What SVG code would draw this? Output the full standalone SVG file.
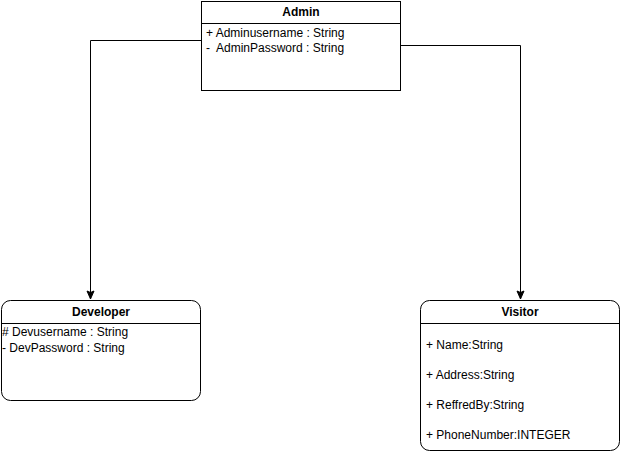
<svg xmlns="http://www.w3.org/2000/svg" width="621" height="451" viewBox="0 0 621 451">
<style>
.box{fill:#fff;stroke:#000;stroke-width:1}
.t{font-family:"Liberation Sans",Arial,sans-serif;font-size:12px;fill:#000;white-space:pre}
.h{font-weight:bold;text-anchor:middle}
.c{fill:none;stroke:#000;stroke-width:1}
</style>
<defs>
<marker id="a2" markerWidth="10" markerHeight="10" refX="9" refY="5" orient="auto" markerUnits="userSpaceOnUse" viewBox="0 0 10 10">
<path d="M1,1.5 L9,5 L1,8.5 L2.5,5 Z" fill="#000" stroke="#000" stroke-width="1"/>
</marker>
</defs>
<g id="connectors">
<path class="c" d="M201.5,40.5 H90.5 V299" marker-end="url(#a2)"/>
<path class="c" d="M400.5,45.5 H520.5 V299" marker-end="url(#a2)"/>
</g>
<g id="admin">
<rect class="box" x="201.5" y="1.5" width="199" height="89"/>
<line class="c" x1="201.5" y1="23.5" x2="400.5" y2="23.5"/>
<text class="t h" x="301" y="16">Admin</text>
<text class="t" x="206" y="37" xml:space="preserve">+ Adminusername : String</text>
<text class="t" x="206" y="52" xml:space="preserve">-  AdminPassword : String</text>
</g>
<g id="developer">
<rect class="box" x="1.5" y="300.5" width="199" height="100" rx="9"/>
<line class="c" x1="1.5" y1="323.5" x2="200.5" y2="323.5"/>
<text class="t h" x="101" y="316">Developer</text>
<text class="t" x="2" y="336"># Devusername : String</text>
<text class="t" x="2" y="352">- DevPassword : String</text>
</g>
<g id="visitor">
<rect class="box" x="420.5" y="300.5" width="199" height="150" rx="9"/>
<line class="c" x1="420.5" y1="323.5" x2="619.5" y2="323.5"/>
<text class="t h" x="520" y="316">Visitor</text>
<text class="t" x="426" y="349">+ Name:String</text>
<text class="t" x="426" y="379">+ Address:String</text>
<text class="t" x="426" y="409">+ ReffredBy:String</text>
<text class="t" x="426" y="439">+ PhoneNumber:INTEGER</text>
</g>
</svg>
